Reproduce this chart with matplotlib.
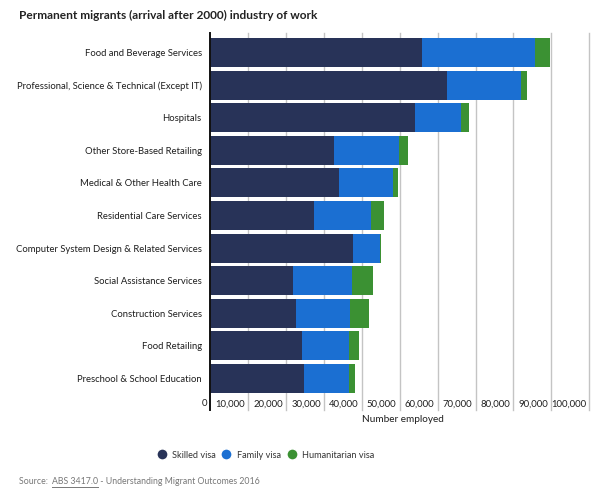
import matplotlib
matplotlib.use("Agg")
import matplotlib.pyplot as plt
from matplotlib.lines import Line2D
import matplotlib.transforms as mtransforms
import numpy as np

plt.rcParams["font.family"] = ["Lato", "DejaVu Sans"]

INDUSTRIES = [
    "Food and Beverage Services",
    "Professional, Science & Technical (Except IT)",
    "Hospitals",
    "Other Store-Based Retailing",
    "Medical & Other Health Care",
    "Residential Care Services",
    "Computer System Design & Related Services",
    "Social Assistance Services",
    "Construction Services",
    "Food Retailing",
    "Preschool & School Education",
]
SKILLED = [56000, 62500, 54000, 32800, 33900, 27400, 37700, 22000, 22700, 24300, 24700]
FAMILY = [29800, 19500, 12300, 16900, 14400, 15100, 7200, 15500, 14100, 12400, 11900]
HUMANITARIAN = [3900, 1500, 2100, 2400, 1200, 3500, 300, 5500, 5200, 2500, 1600]
SERIES_NAMES = ["Skilled visa", "Family visa", "Humanitarian visa"]
X_TICKS = [0, 10000, 20000, 30000, 40000, 50000, 60000, 70000, 80000, 90000, 100000]

COLORS = ["#283358", "#1b6fd2", "#3b9133"]
TEXT = "#1e1e1e"
GRID = "#c4c4c4"
FS = 6.8

W, H = 600, 499
fig = plt.figure(figsize=(W / 100, H / 100), dpi=100, facecolor="white")

left, right = 210 / W, 589.3 / W
top_px, bot_px = 36.5, 394.5
ax = fig.add_axes([left, 1 - bot_px / H, right - left, (bot_px - top_px) / H])

y = np.arange(len(INDUSTRIES))
skilled = np.array(SKILLED)
family = np.array(FAMILY)
hum = np.array(HUMANITARIAN)
h = 0.89
ax.barh(y, skilled, height=h, color=COLORS[0], zorder=3)
ax.barh(y, family, left=skilled, height=h, color=COLORS[1], zorder=3)
ax.barh(y, hum, left=skilled + family, height=h, color=COLORS[2], zorder=3)

ax.set_xlim(0, 100000)
ax.set_ylim(len(INDUSTRIES) - 0.5, -0.5)
for s in ax.spines.values():
    s.set_visible(False)
ax.set_xticks([])
ax.set_yticks(y)
ax.set_yticklabels(INDUSTRIES, fontsize=FS, color=TEXT)
ax.tick_params(axis="y", length=0, pad=6)

# grid lines extending above and below the plot area
trans = mtransforms.blended_transform_factory(ax.transData, ax.transAxes)
off = mtransforms.offset_copy(trans, fig=fig, x=-2.2, y=0, units="points")
for t in X_TICKS:
    if t == 0:
        ax.plot([t, t], [-0.043, 1.01], color="#111111", lw=1.4, transform=trans,
                clip_on=False, zorder=4)
    else:
        ax.plot([t, t], [-0.043, 1.01], color=GRID, lw=1.0, transform=trans,
                clip_on=False, zorder=1)
    ax.text(t, -0.026, f"{t:,}", transform=off, ha="right", va="center",
            fontsize=FS, color=TEXT)

fig.text(403 / W, 1 - 420 / H, "Number employed", ha="center", va="center",
         fontsize=7.2, color=TEXT)

fig.text(19 / W, 1 - 15 / H, "Permanent migrants (arrival after 2000) industry of work",
         ha="left", va="center", fontsize=8.6, fontweight="bold", color="#222222")

handles = [Line2D([0], [0], marker="o", color="w", markerfacecolor=c,
                  markersize=8, label=n) for c, n in zip(COLORS, SERIES_NAMES)]
fig.legend(handles=handles, loc="center", bbox_to_anchor=(265 / W, 1 - 455 / H),
           ncol=3, frameon=False, fontsize=6.6, handletextpad=0.5,
           columnspacing=0.6, handlelength=1.2, labelcolor="#333333")

# source line with underlined link text
fig.canvas.draw()
r = fig.canvas.get_renderer()
sy = 1 - 482 / H
x = 19 / W
parts = [("Source: ", False), ("ABS 3417.0", True),
         (" - Understanding Migrant Outcomes 2016", False)]
for txt, ul in parts:
    tobj = fig.text(x, sy, txt, ha="left", va="center", fontsize=6.3, color="#777777")
    bb = tobj.get_window_extent(r)
    if ul:
        uy = bb.y0 / H - 0.5 / H
        fig.add_artist(Line2D([bb.x0 / W, bb.x1 / W], [uy, uy], color="#777777", lw=0.7))
    x = bb.x1 / W + (2 / W if txt.endswith(" ") else 0)

fig.savefig("out.png", dpi=100, facecolor="white")
